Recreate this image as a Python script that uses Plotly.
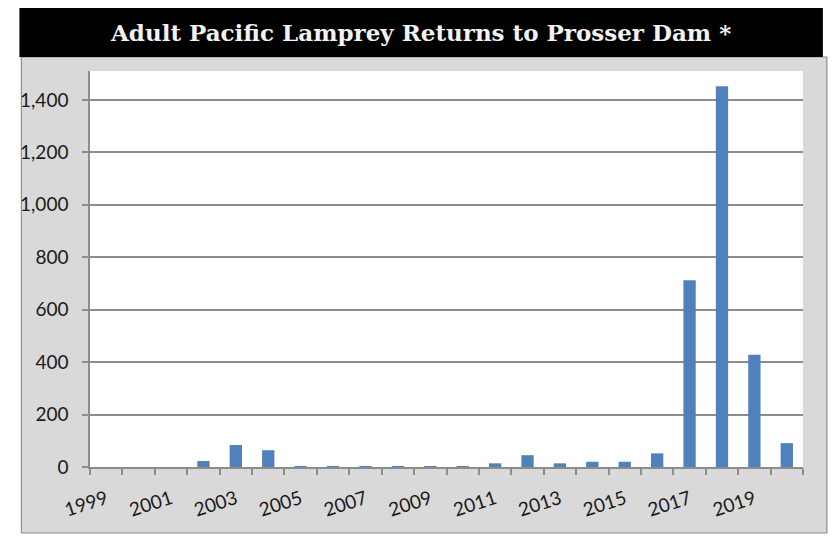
import plotly.graph_objects as go

# Adult Pacific lamprey counted at Prosser Dam, by year
years = list(range(1999, 2021))
returns = [0, 0, 0, 23, 84, 64, 2, 2, 2, 2, 2, 2,
           14, 45, 14, 20, 20, 52, 712, 1452, 428, 91]

label_years = list(range(1999, 2020, 2))
title = "Adult Pacific Lamprey Returns to Prosser Dam *"

# the page body adds an 8px margin, so work in page pixels minus 8
OFF = 8
W, H = 840 - 2 * OFF, 548 - 2 * OFF
L, R, T, B = 86 - OFF, 803 - OFF, 71 - OFF, 467 - OFF   # plot area


def px(x):
    return (x - OFF - L) / (R - L)


def py(y):
    return (B - (y - OFF)) / (B - T)


fig = go.Figure(
    go.Bar(
        x=years,
        y=returns,
        width=0.38,
        marker=dict(color="#4F81BD", line=dict(width=0)),
    )
)

shapes = [
    # grey chart panel
    dict(type="rect", xref="paper", yref="paper", layer="below",
         x0=px(17), x1=px(827), y0=py(533), y1=py(57),
         fillcolor="#d9d9d9", line=dict(color="#8f8f8f", width=1.2)),
    # white plot area
    dict(type="rect", xref="x domain", yref="y domain", layer="below",
         x0=0, x1=1, y0=0, y1=1,
         fillcolor="white", line=dict(width=0)),
    # black title banner
    dict(type="rect", xref="paper", yref="paper", layer="below",
         x0=px(15), x1=px(823), y0=py(57), y1=py(8),
         fillcolor="black", line=dict(width=0)),
]

fig.update_layout(
    width=W,
    height=H,
    margin=dict(l=L, r=W - R, t=T, b=H - B),
    paper_bgcolor="white",
    plot_bgcolor="white",
    showlegend=False,
    shapes=shapes,
    annotations=[
        dict(text=title, xref="paper", yref="paper",
             x=px(418), y=py(33), showarrow=False,
             xanchor="center", yanchor="middle",
             font=dict(family="DejaVu Serif", size=23, color="#f2f2f2",
                       weight="bold")),
    ],
    font=dict(family="Lato", size=19, color="#1a1a1a"),
)

fig.update_xaxes(
    range=[1998.5, 2020.5],
    tickvals=label_years,
    ticktext=[str(y) for y in label_years],
    tickangle=-18,
    ticks="",
    showgrid=False,
    showline=True,
    linecolor="#8c8c8c",
    linewidth=1.5,
    zeroline=False,
    minor=dict(tick0=1998.5, dtick=1, ticks="outside", ticklen=6,
               tickcolor="#8c8c8c", tickwidth=1.5, showgrid=False),
    tickfont=dict(size=19),
    ticklabelstandoff=12,
)

fig.update_yaxes(
    range=[0, 1510],
    dtick=200,
    tickformat=",d",
    ticks="outside",
    ticklen=6,
    tickcolor="#8c8c8c",
    tickwidth=1.5,
    showgrid=True,
    gridcolor="#8c8c8c",
    gridwidth=1.5,
    showline=True,
    linecolor="#8c8c8c",
    linewidth=1.5,
    zeroline=False,
    ticklabelstandoff=10,
)

fig.write_html("out.html")
